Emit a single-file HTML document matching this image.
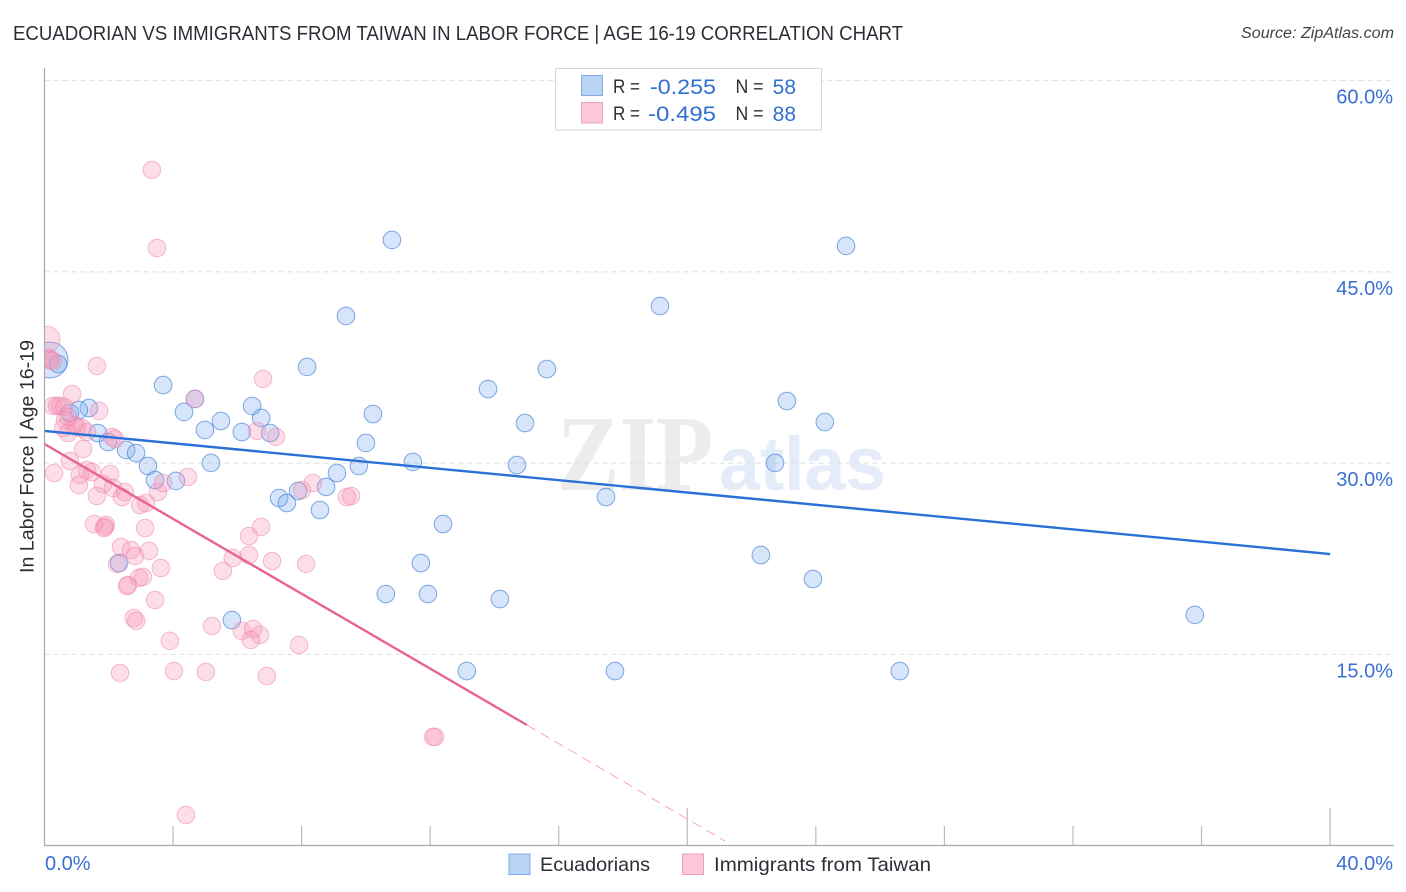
<!DOCTYPE html>
<html lang="en">
<head>
<meta charset="utf-8">
<title>Ecuadorian vs Immigrants from Taiwan in Labor Force | Age 16-19 Correlation Chart</title>
<style>
html,body{margin:0;padding:0;background:#fff;}
svg{display:block;font-family:"Liberation Sans",sans-serif;}
</style>
</head>
<body>
<svg id="chart" width="1406" height="892" viewBox="0 0 1406 892" xmlns="http://www.w3.org/2000/svg">
  <defs><clipPath id="plot-clip"><rect x="44.5" y="60" width="1350" height="786"/></clipPath></defs>
  <rect x="0" y="0" width="1406" height="892" fill="#fff"/>
  <text x="13" y="40" font-size="20.5" fill="#2b2f36" textLength="890" lengthAdjust="spacingAndGlyphs">ECUADORIAN VS IMMIGRANTS FROM TAIWAN IN LABOR FORCE | AGE 16-19 CORRELATION CHART</text>
  <text x="1394" y="38" font-size="15.5" font-style="italic" fill="#444" text-anchor="end" textLength="153" lengthAdjust="spacingAndGlyphs">Source: ZipAtlas.com</text>
  <g>
    <text x="557" y="490" font-family="'Liberation Serif',serif" font-size="108" font-weight="bold" fill="#ececec" textLength="156" lengthAdjust="spacingAndGlyphs">ZIP</text>
    <text x="719" y="490" font-size="76" font-weight="bold" fill="#e4ecf9" textLength="167" lengthAdjust="spacingAndGlyphs">atlas</text>
  </g>
  <g id="grid"></g>
  <g id="marks" clip-path="url(#plot-clip)"></g>
  <g id="trends"></g>
  <g id="axes"></g>
  <text transform="translate(33.5,456.5) rotate(-90)" font-size="19" fill="#2b2f36" text-anchor="middle" textLength="233" lengthAdjust="spacingAndGlyphs">In Labor Force | Age 16-19</text>
  <g>
    <rect x="555.5" y="68.5" width="266" height="61.5" fill="#fff" stroke="#d6d6d6" stroke-width="1"/>
    <rect x="581.5" y="75.5" width="21" height="20" fill="#b9d3f5" stroke="#7fabe6" stroke-width="1"/>
    <text x="613" y="93" font-size="19" fill="#2b2f36" textLength="27" lengthAdjust="spacingAndGlyphs">R =</text>
    <text x="650" y="94" font-size="21" fill="#2f6fd0" textLength="66" lengthAdjust="spacingAndGlyphs">-0.255</text>
    <text x="735.5" y="93" font-size="19" fill="#2b2f36" textLength="28" lengthAdjust="spacingAndGlyphs">N =</text>
    <text x="796" y="94" font-size="21" fill="#2f6fd0" text-anchor="end">58</text>
    <rect x="581.5" y="102.5" width="21" height="20.5" fill="#fbc9da" stroke="#ef9dbb" stroke-width="1"/>
    <text x="613" y="120" font-size="19" fill="#2b2f36" textLength="27" lengthAdjust="spacingAndGlyphs">R =</text>
    <text x="648" y="121" font-size="21" fill="#2f6fd0" textLength="68" lengthAdjust="spacingAndGlyphs">-0.495</text>
    <text x="735.5" y="120" font-size="19" fill="#2b2f36" textLength="28" lengthAdjust="spacingAndGlyphs">N =</text>
    <text x="796" y="121" font-size="21" fill="#2f6fd0" text-anchor="end">88</text>
  </g>
  <g>
    <rect x="509" y="854" width="21" height="20.5" fill="#b9d3f5" stroke="#7fabe6" stroke-width="1"/>
    <text x="540" y="871" font-size="19.5" fill="#2b2f36" textLength="110" lengthAdjust="spacingAndGlyphs">Ecuadorians</text>
    <rect x="682.5" y="854" width="21" height="20.5" fill="#fbc9da" stroke="#ef9dbb" stroke-width="1"/>
    <text x="714" y="871" font-size="19.5" fill="#2b2f36" textLength="217" lengthAdjust="spacingAndGlyphs">Immigrants from Taiwan</text>
  </g>
</svg>
<script>
const xTickValues = [0,4,8,12,16,20,24,28,32,36,40];
const xTickLabels = ["0.0%","40.0%"];
const yTickValues = [15,30,45,60];
const yTickLabels = ["15.0%","30.0%","45.0%","60.0%"];

const blueX = [0.17,0.42,10.81,24.94,19.15,9.38,8.17,15.63,3.69,13.80,4.68,23.10,1.38,1.07,0.79,4.34,10.22,6.74,5.49,24.28,6.46,14.95,4.99,6.14,1.66,7.02,1.98,10.00,2.54,2.85,3.22,5.18,9.78,11.46,14.70,22.73,9.10,3.44,4.09,8.76,7.89,7.30,7.54,17.47,8.57,12.40,22.29,11.71,2.32,23.91,10.62,11.93,14.17,5.83,35.79,13.14,17.75,26.61];
const blueY = [38.09,37.77,47.50,47.03,42.32,41.54,37.54,37.38,36.12,35.81,35.03,34.87,34.32,34.16,33.93,34.01,33.85,33.54,33.30,33.22,34.48,33.14,32.60,32.44,32.36,32.36,31.65,31.58,31.03,30.79,29.77,30.01,29.77,30.09,29.85,30.01,29.22,28.67,28.60,28.13,27.81,27.26,26.87,27.34,26.32,25.22,22.79,22.16,22.16,20.91,19.73,19.73,19.34,17.69,18.09,13.69,13.69,13.69];

const pinkX = [0.08,0.14,0.26,0.17,1.63,0.86,0.26,0.39,0.48,0.61,1.70,0.64,0.73,0.73,0.58,1.01,1.17,1.32,2.10,2.19,1.20,0.79,0.30,1.10,1.32,1.48,2.04,1.07,1.82,2.13,2.50,2.41,1.63,3.53,3.69,4.46,2.97,3.16,1.54,1.91,1.88,1.85,3.13,2.38,2.69,2.82,3.25,3.62,2.26,3.06,2.94,2.60,2.57,3.44,2.78,2.85,3.90,2.35,4.03,5.02,6.92,4.40,5.21,6.14,6.49,6.70,6.42,7.92,5.55,5.86,6.36,6.36,6.74,7.08,8.14,6.61,7.20,6.80,4.68,8.01,8.35,3.34,3.50,12.09,12.15,9.41,9.54,0.92];
const pinkY = [39.70,38.24,38.00,38.09,37.62,35.42,34.48,34.48,34.48,34.40,34.09,33.38,33.62,32.36,32.75,32.83,32.75,32.44,32.05,31.89,31.11,30.16,29.22,29.07,29.46,29.30,29.14,28.28,28.36,28.05,27.73,27.34,27.42,27.73,28.44,28.91,26.71,26.87,25.22,25.15,24.99,24.91,24.91,23.42,23.18,22.71,23.11,21.77,22.09,21.07,20.99,20.44,20.36,19.26,17.85,17.62,16.05,13.54,13.69,13.62,13.30,2.40,17.22,16.83,16.99,16.52,16.13,15.73,21.54,22.56,22.79,24.28,24.99,22.32,22.09,32.52,32.05,36.60,35.03,27.89,28.44,52.99,46.87,8.52,8.52,27.34,27.42,32.99];

const blueTrendX = [0,40];
const blueTrendY = [32.52,22.87];
const pinkTrendX = [0,15.01];
const pinkTrendY = [31.5,9.46];
const pinkDashX = [15.01,21.17];
const pinkDashY = [9.46,0.36];

function xScale(v){ return 44.5 + v * 32.14; }
function yScale(v){ return 845.6 - v * 12.75; }

const NS = 'http://www.w3.org/2000/svg';
function make(tag, parent, attrs){
  const el = document.createElementNS(NS, tag);
  for (const k in attrs) el.setAttribute(k, attrs[k]);
  parent.appendChild(el);
  return el;
}
const gridG = document.getElementById('grid');
const axesG = document.getElementById('axes');
const marksG = document.getElementById('marks');
const trendsG = document.getElementById('trends');

yTickValues.forEach(function(v, i){
  const line = make('line', gridG, {x1:44.5, x2:1393, y1:yScale(v), y2:yScale(v), stroke:'#dedede', 'stroke-width':1, 'stroke-dasharray':'5 4'});
  
  
  const label = make('text', axesG, {x:1393, y:yScale(v)+23, 'font-size':20, fill:'#3a70d2', 'text-anchor':'end'});
  
  
  label.textContent = yTickLabels[i];
});

const yAxis = make('line', axesG, {x1:44.5, x2:44.5, y1:68, y2:846, stroke:'#aaa', 'stroke-width':1.2});


const xAxis = make('line', axesG, {x1:44, x2:1394, y1:845.5, y2:845.5, stroke:'#aaa', 'stroke-width':1.2});



xTickValues.forEach(function(v){
  if (v === 0) return;
  const major = (v === 20 || v === 40);
  const tick = make('line', axesG, {x1:xScale(v), x2:xScale(v), y1:major ? 808 : 826, y2:845.5, stroke:'#bbb', 'stroke-width':1.2});
  
  
});
const xLabel0 = make('text', axesG, {x:45, y:870, 'font-size':20, fill:'#3a70d2'});


xLabel0.textContent = xTickLabels[0];
const xLabel1 = make('text', axesG, {x:1393, y:870, 'font-size':20, fill:'#3a70d2', 'text-anchor':'end'});


xLabel1.textContent = xTickLabels[1];

blueX.forEach(function(v, i){
  const c = make('circle', marksG, {cx:xScale(v), cy:yScale(blueY[i]), r:i === 0 ? 18 : 8.8, fill:'rgba(120,170,235,0.30)', stroke:'rgba(80,135,220,0.72)', 'stroke-width':1});
  
  
});
pinkX.forEach(function(v, i){
  const c = make('circle', marksG, {cx:xScale(v), cy:yScale(pinkY[i]), r:i === 0 ? 13 : 8.8, fill:'rgba(245,150,185,0.32)', stroke:'rgba(235,130,170,0.5)', 'stroke-width':1});
  
  
});

const blueTrend = make('line', trendsG, {x1:xScale(blueTrendX[0]), y1:yScale(blueTrendY[0]), x2:xScale(blueTrendX[1]), y2:yScale(blueTrendY[1]), stroke:'#2a70d6', 'stroke-width':2.4});


const pinkTrend = make('line', trendsG, {x1:xScale(pinkTrendX[0]), y1:yScale(pinkTrendY[0]), x2:xScale(pinkTrendX[1]), y2:yScale(pinkTrendY[1]), stroke:'#e8638f', 'stroke-width':2.4});


const pinkDash = make('line', trendsG, {x1:xScale(pinkDashX[0]), y1:yScale(pinkDashY[0]), x2:xScale(pinkDashX[1]), y2:yScale(pinkDashY[1]), stroke:'#f2a6c0', 'stroke-width':1, 'stroke-dasharray':'10 6'});


</script>
</body>
</html>
